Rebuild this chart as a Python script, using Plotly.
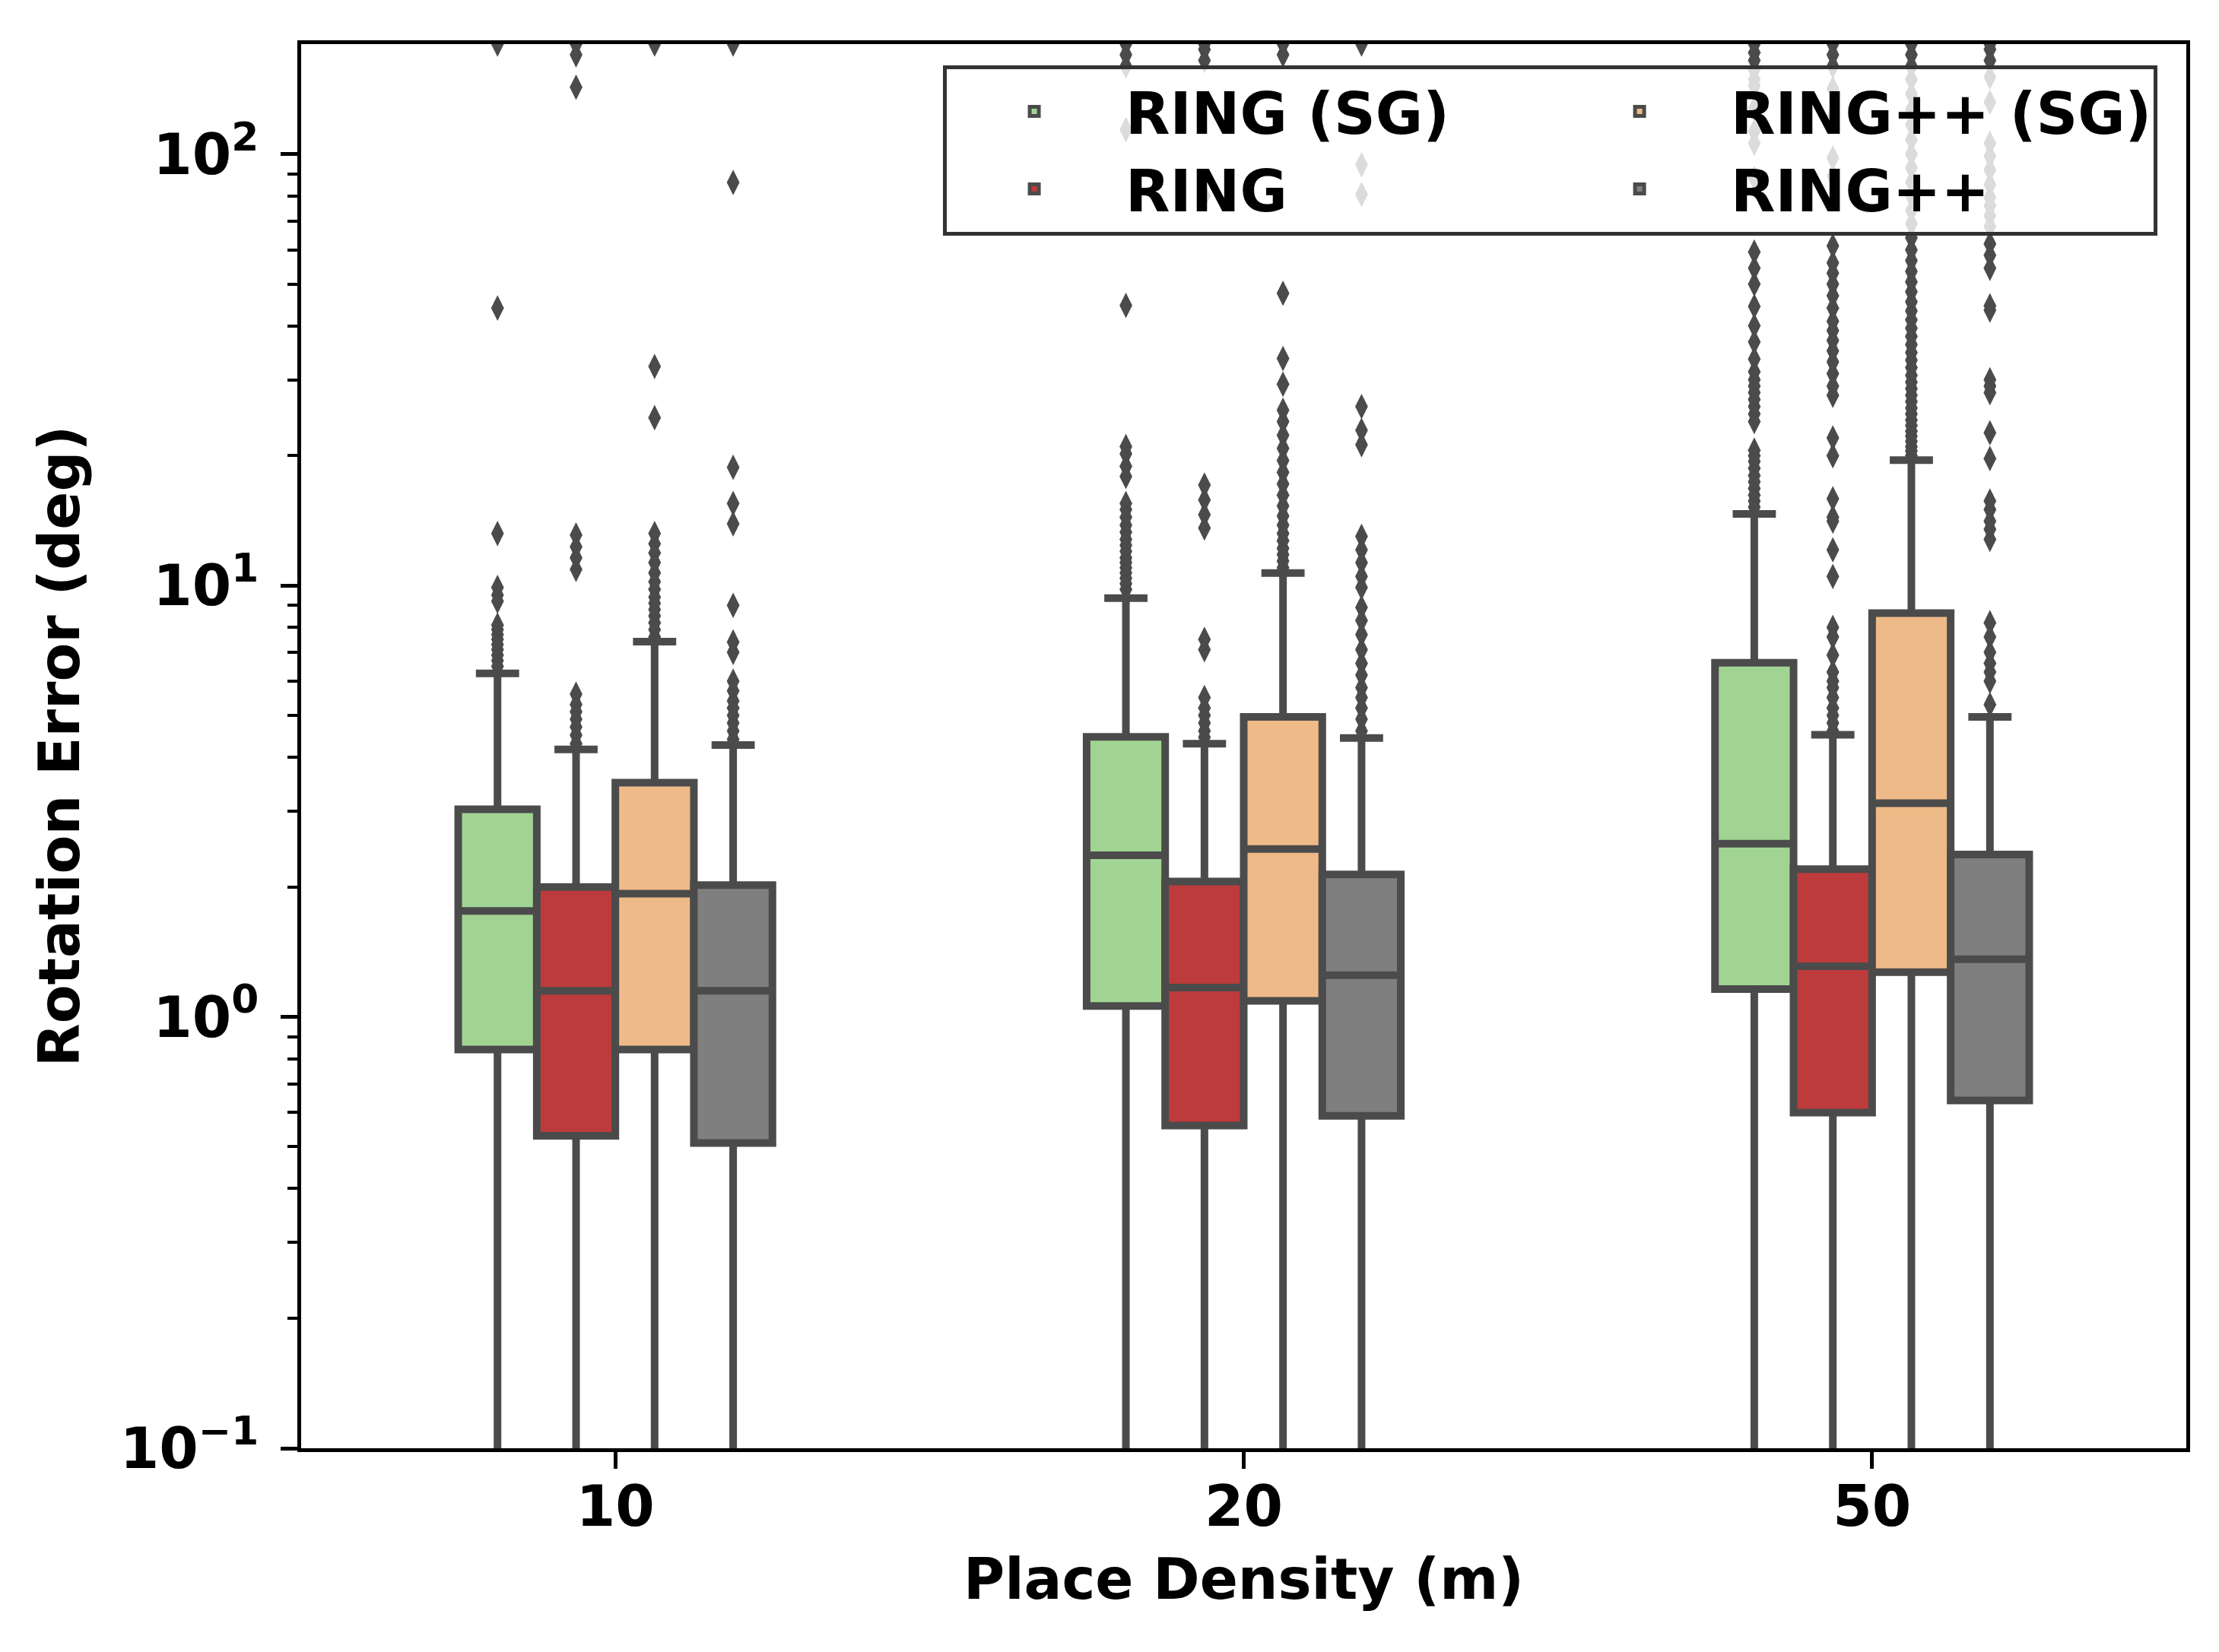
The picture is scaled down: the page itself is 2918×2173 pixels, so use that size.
import math
import plotly.graph_objects as go

# ---------------- data ----------------
categories = ["10", "20", "50"]
methods = ["RING (SG)", "RING", "RING++ (SG)", "RING++"]
colors = ["#a1d493", "#bd3b3c", "#eeba88", "#7f7f7f"]
legend_groups = ["col1", "col1", "col2", "col2"]

q1 = {
    "RING (SG)": [0.84, 1.06, 1.16],
    "RING": [0.53, 0.56, 0.60],
    "RING++ (SG)": [0.84, 1.09, 1.27],
    "RING++": [0.51, 0.59, 0.64],
}
median = {
    "RING (SG)": [1.76, 2.37, 2.52],
    "RING": [1.15, 1.17, 1.31],
    "RING++ (SG)": [1.93, 2.45, 3.13],
    "RING++": [1.15, 1.25, 1.36],
}
q3 = {
    "RING (SG)": [3.03, 4.46, 6.62],
    "RING": [2.00, 2.06, 2.20],
    "RING++ (SG)": [3.49, 4.96, 8.63],
    "RING++": [2.02, 2.14, 2.38],
}
upper_whisker = {
    "RING (SG)": [6.26, 9.35, 14.66],
    "RING": [4.17, 4.30, 4.51],
    "RING++ (SG)": [7.41, 10.69, 19.53],
    "RING++": [4.27, 4.43, 4.96],
}
lower_whisker = {
    "RING (SG)": [0.005, 0.005, 0.005],
    "RING": [0.005, 0.005, 0.005],
    "RING++ (SG)": [0.005, 0.005, 0.005],
    "RING++": [0.005, 0.005, 0.005],
}
outliers = {
    "RING (SG)": [
        [6.5, 6.7, 6.9, 7.1, 7.3, 7.5, 7.7, 7.9, 8.1, 9.2, 9.5, 9.9, 13.2, 44.0, 180],
        [9.8, 10.1, 10.4, 10.7, 11.0, 11.3, 11.6, 12.0, 12.4, 12.8, 13.3, 13.8, 14.4,
         15.0, 15.5, 17.9, 18.9, 20.2, 21.0, 44.6, 114, 160, 170, 180],
        [15.2, 15.7, 16.2, 16.8, 17.4, 18.0, 18.7, 19.4, 20.0, 20.6, 24.0, 25.0, 26.0,
         27.0, 28.0, 29.0, 30.0, 31.3, 33.5, 36.7, 40.0, 44.4, 50.0, 54.4, 59.3, 87.9,
         106, 113, 128, 144, 149, 157, 165, 172, 180],
    ],
    "RING": [
        [4.3, 4.5, 4.7, 4.9, 5.1, 5.3, 5.6, 10.9, 11.6, 12.3, 13.1, 143, 170, 180],
        [4.45, 4.6, 4.8, 5.0, 5.2, 5.5, 7.1, 7.5, 13.6, 14.6, 15.8, 17.1, 80, 165, 175, 180],
        [4.6, 4.8, 5.0, 5.2, 5.5, 5.8, 6.0, 6.3, 6.9, 7.6, 8.0, 10.5, 12.1, 14.1, 14.4,
         15.9, 20.0, 22.0, 27.6, 29.0, 31.0, 33.0, 35.0, 37.0, 39.0, 41.0, 44.0, 47.0,
         50.0, 53.0, 56.0, 61.3, 89, 98, 122, 142, 160, 170, 180],
    ],
    "RING++ (SG)": [
        [7.6, 7.9, 8.2, 8.5, 8.8, 9.1, 9.4, 9.8, 10.2, 10.7, 11.3, 11.9, 12.5, 13.2,
         24.5, 32.2, 180],
        [11.0, 11.4, 11.8, 12.2, 12.7, 13.2, 13.8, 14.5, 15.3, 16.2, 17.2, 18.3, 19.5,
         20.8, 22.3, 24.0, 25.5, 29.3, 33.6, 47.6, 170, 180],
        [20.0, 20.5, 21.0, 21.6, 22.2, 22.8, 23.5, 24.2, 25.0, 25.8, 26.7, 27.6, 28.6,
         29.6, 30.7, 32.0, 33.3, 34.7, 36.2, 37.8, 39.5, 41.3, 43.3, 45.5, 48.0, 50.6,
         53.5, 56.7, 60, 64, 69, 74, 80, 86, 93, 100, 108, 117, 127, 138, 149, 160,
         170, 180],
    ],
    "RING++": [
        [4.4, 4.6, 4.8, 5.0, 5.2, 5.4, 5.7, 6.0, 7.0, 7.4, 9.0, 13.9, 15.5, 18.8, 86, 180],
        [4.6, 4.9, 5.2, 5.5, 5.8, 6.2, 6.6, 7.1, 7.7, 8.3, 8.9, 9.9, 10.5, 11.3, 12.1,
         13.0, 21.2, 22.9, 26.0, 80.7, 94.5, 180],
        [5.3, 6.0, 6.3, 6.6, 7.0, 7.6, 8.2, 12.8, 13.5, 14.1, 15.0, 15.7, 19.7, 22.6,
         28.0, 29.0, 30.0, 43.5, 44.5, 54.4, 58.3, 62, 68, 72, 76, 79.4, 85, 92, 99,
         106, 132, 151, 165, 175, 180],
    ],
}

y_tick_vals = [0.1, 1, 10, 100]
y_tick_text = ["10<sup>\u22121</sup>", "10<sup>0</sup>", "10<sup>1</sup>", "10<sup>2</sup>"]
y_range = [0.1, 180]

x_title = "Place Density (m)"
y_title = "Rotation Error (deg)"

# ---------------- figure ----------------
EDGE = "#4b4b4b"
FONT = "DejaVu Sans"
fig = go.Figure()

for m, c, g in zip(methods, colors, legend_groups):
    fig.add_trace(go.Box(
        name=m,
        x=categories,
        y=outliers[m],
        q1=q1[m],
        median=median[m],
        q3=q3[m],
        lowerfence=lower_whisker[m],
        upperfence=upper_whisker[m],
        boxpoints="outliers",
        jitter=0,
        pointpos=0,
        fillcolor=c,
        line=dict(color=EDGE, width=10),
        whiskerwidth=0.55,
        marker=dict(symbol="diamond-tall", size=24, color=EDGE, line=dict(width=0)),
        legendgroup=g,
    ))

fig.update_layout(
    width=2918,
    height=2173,
    margin=dict(l=388, r=51, t=50, b=276),
    paper_bgcolor="white",
    plot_bgcolor="white",
    boxmode="group",
    boxgap=0.5,
    boxgroupgap=0,
    font=dict(family=FONT, size=72, color="black", weight="bold"),
    showlegend=True,
    legend=dict(
        orientation="h",
        x=0.9847,
        y=0.985,
        xanchor="right",
        yanchor="top",
        bgcolor="rgba(255,255,255,0.8)",
        bordercolor="#333333",
        borderwidth=5,
        itemwidth=230,
        entrywidth=551,
        entrywidthmode="pixels",
        font=dict(family=FONT, size=76, color="black", weight="bold"),
    ),
)

fig.update_xaxes(
    type="category",
    categoryorder="array",
    categoryarray=categories,
    range=[-0.5, 2.5],
    showline=True,
    mirror=True,
    linecolor="black",
    linewidth=5,
    ticks="outside",
    ticklen=22,
    tickwidth=5,
    tickcolor="black",
    showgrid=False,
    zeroline=False,
    tickfont=dict(family=FONT, size=74, color="black", weight="bold"),
    ticklabelstandoff=-14,
    title=dict(text=x_title, font=dict(family=FONT, size=74, color="black", weight="bold"),
               standoff=30),
)

fig.update_yaxes(
    type="log",
    range=[math.log10(y_range[0]), math.log10(y_range[1])],
    tickmode="array",
    tickvals=y_tick_vals,
    ticktext=y_tick_text,
    showline=True,
    mirror=True,
    linecolor="black",
    linewidth=5,
    ticks="outside",
    ticklen=22,
    tickwidth=5,
    tickcolor="black",
    minor=dict(ticks="outside", ticklen=13, tickwidth=4, tickcolor="black",
               dtick="D1", showgrid=False),
    showgrid=False,
    zeroline=False,
    tickfont=dict(family=FONT, size=74, color="black", weight="bold"),
    ticklabelstandoff=14,
    title=dict(text=y_title, font=dict(family=FONT, size=74, color="black", weight="bold"),
               standoff=30),
)

fig.write_html("out.html")
